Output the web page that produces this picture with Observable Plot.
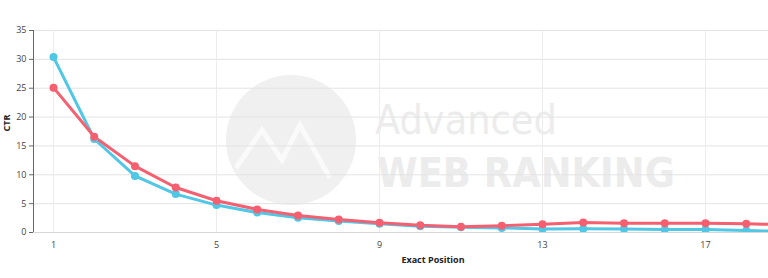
<!DOCTYPE html>
<html>
<head>
<meta charset="utf-8">
<script src="https://cdn.jsdelivr.net/npm/d3@7"></script>
<script src="https://cdn.jsdelivr.net/npm/@observablehq/plot@0.6"></script>
<style>
  html, body { margin: 0; padding: 0; background: #fff; }
  #chart { position: relative; width: 768px; height: 278px; overflow: hidden; }
</style>
</head>
<body>
<div id="chart"></div>
<script>
const positions = [1, 2, 3, 4, 5, 6, 7, 8, 9, 10, 11, 12, 13, 14, 15, 16, 17, 18, 19];
const seriesA = [30.4, 16.2, 9.8, 6.65, 4.75, 3.45, 2.55, 2.0, 1.5, 1.1, 0.9, 0.8, 0.6, 0.64, 0.62, 0.52, 0.52, 0.35, 0.15];
const seriesB = [25.1, 16.6, 11.5, 7.8, 5.5, 4.0, 2.95, 2.25, 1.7, 1.27, 1.0, 1.15, 1.45, 1.73, 1.62, 1.62, 1.62, 1.5, 1.35];
const xTicks = [1, 5, 9, 13, 17];
const yTicks = [0, 5, 10, 15, 20, 25, 30, 35];
const seriesNames = ["Series A", "Series B"];
const seriesColors = ["#4fc7e5", "#f55f70"];

const data = [];
positions.forEach((p, i) => {
  data.push({pos: p, ctr: seriesA[i], series: seriesNames[0]});
  data.push({pos: p, ctr: seriesB[i], series: seriesNames[1]});
});

const plot = Plot.plot({
  width: 768,
  height: 278,
  marginTop: 30,
  marginBottom: 46,
  marginLeft: 33,
  marginRight: 0,
  style: {fontFamily: "'Open Sans', 'DejaVu Sans', sans-serif", fontSize: "9px", color: "#444", background: "#fff"},
  x: {domain: [0.509, 18.546], ticks: xTicks, label: null},
  y: {domain: [0, 35], ticks: yTicks, label: null},
  color: {domain: seriesNames, range: seriesColors},
  marks: [
    Plot.gridY(yTicks, {stroke: "#e3e3e3", strokeOpacity: 1, strokeWidth: 1}),
    Plot.gridX(xTicks, {stroke: "#ececec", strokeOpacity: 1, strokeWidth: 1}),
    Plot.ruleY([0], {stroke: "#d8d8d8"}),
    Plot.axisY({ticks: yTicks, tickSize: 4, tickPadding: 3, stroke: "#666", fill: "#444", fontSize: 9}),
    Plot.ruleX([0.509], {stroke: "#666", strokeWidth: 1}),
    Plot.axisX({ticks: xTicks, tickSize: 0, tickPadding: 9, fill: "#444", fontSize: 9}),
    Plot.line(data, {x: "pos", y: "ctr", z: "series", stroke: "series", strokeWidth: 3, clip: true}),
    Plot.dot(data, {x: "pos", y: "ctr", fill: "series", r: 4, clip: true}),
    Plot.text(["CTR"], {frameAnchor: "left", dx: -26, rotate: -90, fontWeight: "bold", fontSize: 9, fill: "#222"}),
    Plot.text(["Exact Position"], {frameAnchor: "bottom", dy: 30, dx: 32, fontWeight: "bold", fontSize: 9, fill: "#222"})
  ]
});

document.getElementById("chart").appendChild(plot);

// Watermark behind the data
const svg = d3.select(plot);
const wm = svg.insert("g", ":first-child").attr("aria-label", "watermark").attr("text-anchor", "start");
wm.append("circle").attr("cx", 291).attr("cy", 140).attr("r", 65).attr("fill", "#f0f0f0");
wm.append("path").attr("d", "M236 168 L262 130 L282 160 L300 125 L330 178")
  .attr("fill", "none").attr("stroke", "#fafafa").attr("stroke-width", 5);
function fitText(txt, x, y, weight, targetWidth) {
  const t = wm.append("text").attr("x", x).attr("y", y).text(txt)
    .attr("font-family", "'DejaVu Sans Condensed', 'Open Sans', sans-serif").attr("font-weight", weight)
    .attr("font-size", 50).attr("fill", "#ececec");
  const w = t.node().getComputedTextLength();
  if (w > 0) t.attr("font-size", Math.min(60, 50 * targetWidth / w));
}
fitText("Advanced", 375, 134, 200, 182);
fitText("WEB RANKING", 377, 187, "bold", 298);
</script>
</body>
</html>
